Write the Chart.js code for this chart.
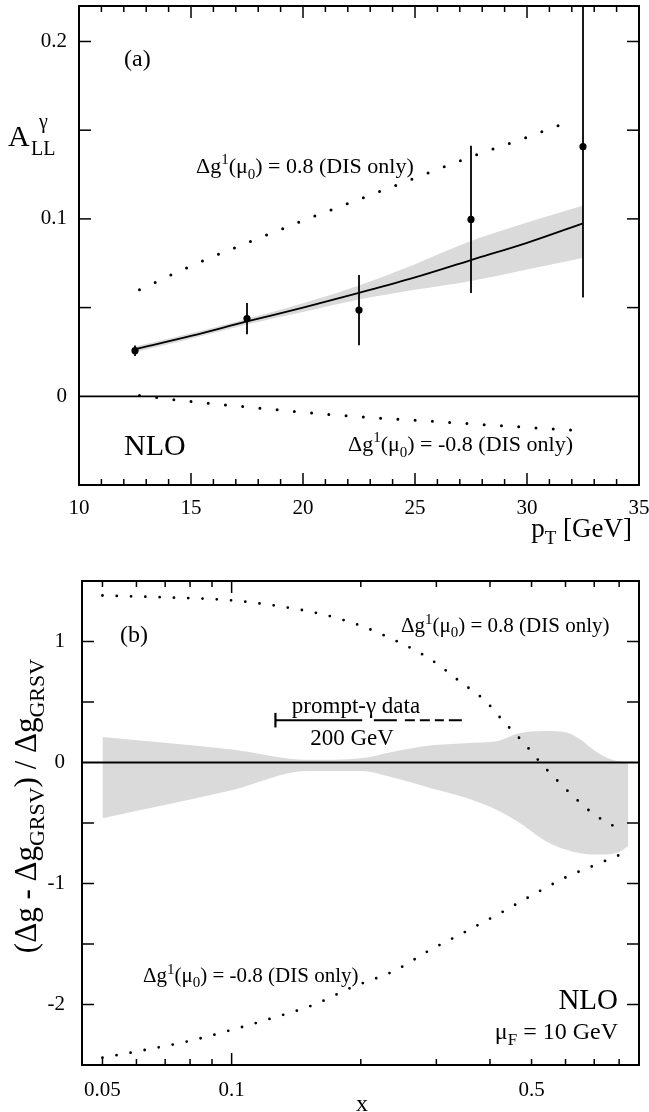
<!DOCTYPE html>
<html>
<head>
<meta charset="utf-8">
<script src="https://cdn.jsdelivr.net/npm/chart.js@4.4.1/dist/chart.umd.min.js"></script>
<style>
  html, body { margin: 0; padding: 0; background: #fff; }
  #wrap { position: relative; width: 649px; height: 1112px; overflow: hidden; }
  canvas { position: absolute; left: 0; top: 0; }
</style>
</head>
<body>
<div id="wrap">
  <canvas id="panelA" width="649" height="1112" style="width:649px;height:1112px"></canvas>
  <canvas id="panelB" width="649" height="1112" style="width:649px;height:1112px"></canvas>
</div>
<script>
// ---------- panel (a): A_LL^gamma vs pT ----------
const ptData = [12.5, 17.5, 22.5, 27.5, 32.5]
const allData = [0.0257, 0.0438, 0.0486, 0.0997, 0.1407]
const allErr = [0.003, 0.0088, 0.0198, 0.0415, 0.085]

const ptCurve = [12.5, 15, 17.5, 20, 22.5, 25, 27.5, 30, 32.5]
const allGrsv = [0.0265, 0.034, 0.0422, 0.050, 0.0583, 0.067, 0.0768, 0.0865, 0.0975]
const allBandHi = [0.028, 0.0355, 0.0437, 0.0525, 0.0625, 0.0745, 0.0875, 0.098, 0.1076]
const allBandLo = [0.0248, 0.0325, 0.0405, 0.0475, 0.0545, 0.060, 0.065, 0.0715, 0.078]

const ptPlus = [12.7, 15, 17.5, 20, 22.5, 25, 27.5, 30, 32.1]
const allPlus = [0.060, 0.0735, 0.0865, 0.099, 0.111, 0.123, 0.135, 0.146, 0.156]
const ptMinus = [12.7, 15, 17.5, 20, 22.5, 25, 27.5, 30, 32]
const allMinus = [0.0005, -0.003, -0.006, -0.009, -0.0115, -0.0135, -0.0155, -0.0175, -0.019]

const ptTicks = [10, 15, 20, 25, 30, 35]
const ptTickLabels = ['10', '15', '20', '25', '30', '35']
const allTicks = [0, 0.1, 0.2]
const allTickLabels = ['0', '0.1', '0.2']

// ---------- panel (b): (dg - dg_GRSV)/dg_GRSV vs x ----------
const xBand = [0.05, 0.1, 0.15, 0.2, 0.235, 0.29, 0.35, 0.42, 0.46, 0.54, 0.6, 0.65, 0.7, 0.75, 0.8, 0.84]
const ratioBandHi = [0.21, 0.107, 0.022, 0.035, 0.085, 0.14, 0.16, 0.18, 0.235, 0.26, 0.25, 0.19, 0.10, 0.04, 0.01, 0.0]
const ratioBandLo = [-0.46, -0.23, -0.07, -0.07, -0.12, -0.21, -0.29, -0.40, -0.48, -0.65, -0.72, -0.75, -0.76, -0.76, -0.74, -0.69]

const xPlus = [0.05, 0.07, 0.1, 0.13, 0.165, 0.2, 0.23, 0.27, 0.3, 0.34, 0.39, 0.43, 0.48, 0.53, 0.56, 0.63, 0.7, 0.8]
const ratioPlus = [1.38, 1.365, 1.34, 1.29, 1.22, 1.13, 1.04, 0.92, 0.82, 0.67, 0.51, 0.34, 0.16, -0.02, -0.11, -0.29, -0.43, -0.55]
const xMinus = [0.05, 0.064, 0.08, 0.1, 0.125, 0.156, 0.19, 0.24, 0.29, 0.35, 0.42, 0.5, 0.6, 0.7, 0.82]
const ratioMinus = [-2.44, -2.37, -2.30, -2.21, -2.11, -2.0, -1.86, -1.72, -1.55, -1.40, -1.25, -1.10, -0.95, -0.85, -0.75]

// prompt-photon x coverage at 200 GeV
const xPromptSolid = [0.1265, 0.2015]
const xPromptDashed = [0.2145, 0.345]
const ratioPrompt = 0.35
const ratioPromptCap = [0.29, 0.41]

const xTicksB = [0.05, 0.1, 0.5]
const xTickLabelsB = ['0.05', '0.1', '0.5']
const ratioTicks = [-2, -1, 0, 1]
const ratioTickLabels = ['-2', '-1', '0', '1']

const pts = (xs, ys) => xs.map((x, i) => ({ x: x, y: ys[i] }))
const serif = '"Liberation Serif", "Times New Roman", serif'

function drawRich(ctx, parts, x, y, size, align) {
  const small = Math.round(size * 0.7)
  const fnt = m => (m ? small : size) + 'px ' + serif
  let w = 0
  for (const [t, m] of parts) { ctx.font = fnt(m); w += ctx.measureText(t).width }
  let cx = align === 'center' ? x - w / 2 : align === 'right' ? x - w : x
  ctx.textBaseline = 'alphabetic'
  ctx.textAlign = 'left'
  ctx.fillStyle = '#000'
  for (const [t, m] of parts) {
    ctx.font = fnt(m)
    const dy = m === 'sup' ? -size * 0.4 : m === 'sub' ? size * 0.25 : 0
    ctx.fillText(t, cx, y + dy)
    cx += ctx.measureText(t).width
  }
}

// frame, inward ticks and zero line
const framePlugin = {
  id: 'frame',
  afterDatasetsDraw(chart, args, o) {
    const { ctx, chartArea: a } = chart
    const sx = chart.scales.x, sy = chart.scales.y
    const seg = (x1, y1, x2, y2) => { ctx.beginPath(); ctx.moveTo(x1, y1); ctx.lineTo(x2, y2); ctx.stroke() }
    ctx.save()
    ctx.strokeStyle = '#000'
    ctx.lineWidth = 1.8
    const y0 = sy.getPixelForValue(0)
    seg(a.left, y0, a.right, y0)
    ctx.lineWidth = 1.5
    const xt = (v, len) => {
      const px = sx.getPixelForValue(v)
      seg(px, a.top, px, a.top + len)
      seg(px, a.bottom, px, a.bottom - len)
    }
    o.xMajor.forEach(v => xt(v, 12))
    o.xMinor.forEach(v => xt(v, 6))
    o.yTicks.forEach(v => {
      const py = sy.getPixelForValue(v)
      seg(a.left, py, a.left + 12, py)
      seg(a.right, py, a.right - 12, py)
    })
    ctx.lineWidth = 2
    ctx.strokeRect(a.left, a.top, a.right - a.left, a.bottom - a.top)
    ctx.restore()
  }
}

const minorPt = []
for (let v = 11; v < 35; v++) if (v % 5) minorPt.push(v)

const tickFont = { family: serif, size: 21 }

const dotted = (data, gap, width) => ({
  data: data, showLine: true, borderColor: '#000', borderWidth: width,
  borderDash: [0, gap], borderCapStyle: 'round', pointRadius: 0,
  cubicInterpolationMode: 'monotone', fill: false, order: 2
})

// ---------- chart (a) ----------
const errorBarsA = ptData.map((x, i) => ({
  data: [{ x: x, y: allData[i] - allErr[i] }, { x: x, y: allData[i] + allErr[i] }],
  showLine: true, borderColor: '#000', borderWidth: 1.8, pointRadius: 0, order: 1
}))

new Chart(document.getElementById('panelA'), {
  type: 'scatter',
  data: {
    datasets: [
      { data: pts(ptData, allData), pointRadius: 3.6, pointBackgroundColor: '#000', pointBorderWidth: 0, order: 0 },
      ...errorBarsA,
      { data: pts(ptCurve, allGrsv), showLine: true, borderColor: '#000', borderWidth: 1.8, pointRadius: 0,
        cubicInterpolationMode: 'monotone', order: 1 },
      dotted(pts(ptPlus, allPlus), 17.3, 3),
      dotted(pts(ptMinus, allMinus), 17.3, 3),
      { data: pts(ptCurve, allBandHi), showLine: true, borderWidth: 0, pointRadius: 0, fill: '+1',
        backgroundColor: '#dadada', cubicInterpolationMode: 'monotone', order: 10 },
      { data: pts(ptCurve, allBandLo), showLine: true, borderWidth: 0, pointRadius: 0,
        cubicInterpolationMode: 'monotone', order: 11 }
    ]
  },
  options: {
    responsive: false,
    animation: false,
    events: [],
    layout: { padding: { top: 6, right: 10, left: 0, bottom: 0 } },
    plugins: {
      legend: { display: false },
      tooltip: { enabled: false },
      frame: { xMajor: ptTicks, xMinor: minorPt, yTicks: [0.05, 0.1, 0.15, 0.2] }
    },
    scales: {
      x: {
        type: 'linear', min: 10, max: 35,
        grid: { display: false, drawTicks: false }, border: { display: false },
        afterBuildTicks: s => { s.ticks = ptTicks.map(v => ({ value: v })) },
        afterFit: s => { s.height = 1112 - 485; s.paddingLeft = 0; s.paddingRight = 0 },
        ticks: { font: tickFont, color: '#000', padding: 11, maxRotation: 0, autoSkip: false,
          callback: v => ptTickLabels[ptTicks.indexOf(v)] }
      },
      y: {
        type: 'linear', min: -0.05, max: 0.22,
        grid: { display: false, drawTicks: false }, border: { display: false },
        afterBuildTicks: s => { s.ticks = allTicks.map(v => ({ value: v })) },
        afterFit: s => { s.width = 79; s.paddingTop = 0; s.paddingBottom = 0 },
        ticks: { font: tickFont, color: '#000', padding: 12, autoSkip: false,
          callback: v => allTickLabels[allTicks.indexOf(v)] }
      }
    }
  },
  plugins: [framePlugin, {
    id: 'textA',
    afterDraw(chart) {
      const ctx = chart.ctx
      ctx.save()
      drawRich(ctx, [['(a)']], 124, 66, 24, 'left')
      drawRich(ctx, [['Δg'], ['1', 'sup'], ['(μ'], ['0', 'sub'], [') = 0.8 (DIS only)']], 196, 173, 22, 'left')
      drawRich(ctx, [['NLO']], 124, 455, 30, 'left')
      drawRich(ctx, [['Δg'], ['1', 'sup'], ['(μ'], ['0', 'sub'], [') = -0.8 (DIS only)']], 348, 451, 22, 'left')
      drawRich(ctx, [['A']], 8, 146, 30, 'left')
      drawRich(ctx, [['LL']], 31, 154.5, 20, 'left')
      drawRich(ctx, [['γ']], 39, 128, 20, 'left')
      drawRich(ctx, [['p'], ['T', 'sub'], [' [GeV]']], 632, 537, 27, 'right')
      ctx.restore()
    }
  }]
})

// ---------- chart (b) ----------
new Chart(document.getElementById('panelB'), {
  type: 'scatter',
  data: {
    datasets: [
      dotted(pts(xPlus, ratioPlus), 14.3, 2.8),
      dotted(pts(xMinus, ratioMinus), 14.3, 2.8),
      { data: pts(xPromptSolid, [ratioPrompt, ratioPrompt]), showLine: true, borderColor: '#000',
        borderWidth: 2, pointRadius: 0, order: 1 },
      { data: pts(xPromptDashed, [ratioPrompt, ratioPrompt]), showLine: true, borderColor: '#000',
        borderWidth: 2, pointRadius: 0, borderDash: [23, 8, 10, 5, 10, 5, 9, 5, 13, 40], order: 1 },
      { data: pts([xPromptSolid[0], xPromptSolid[0]], ratioPromptCap), showLine: true, borderColor: '#000',
        borderWidth: 2.2, pointRadius: 0, order: 1 },
      { data: pts(xBand, ratioBandHi), showLine: true, borderWidth: 0, pointRadius: 0, fill: '+1',
        backgroundColor: '#dadada', cubicInterpolationMode: 'monotone', order: 10 },
      { data: pts(xBand, ratioBandLo), showLine: true, borderWidth: 0, pointRadius: 0,
        cubicInterpolationMode: 'monotone', order: 11 }
    ]
  },
  options: {
    responsive: false,
    animation: false,
    events: [],
    layout: { padding: { top: 581, right: 10, left: 0, bottom: 0 } },
    plugins: {
      legend: { display: false },
      tooltip: { enabled: false },
      frame: {
        xMajor: [0.1],
        xMinor: [0.05, 0.06, 0.07, 0.08, 0.09, 0.2, 0.3, 0.4, 0.5, 0.6, 0.7, 0.8],
        yTicks: [-2, -1.5, -1, -0.5, 0.5, 1]
      }
    },
    scales: {
      x: {
        type: 'logarithmic', min: 0.0448, max: 0.89,
        grid: { display: false, drawTicks: false }, border: { display: false },
        afterBuildTicks: s => { s.ticks = xTicksB.map(v => ({ value: v })) },
        afterFit: s => { s.height = 1112 - 1065; s.paddingLeft = 0; s.paddingRight = 0 },
        ticks: { font: tickFont, color: '#000', padding: 13, maxRotation: 0, autoSkip: false,
          callback: v => xTickLabelsB[xTicksB.indexOf(v)] }
      },
      y: {
        type: 'linear', min: -2.5, max: 1.5,
        grid: { display: false, drawTicks: false }, border: { display: false },
        afterBuildTicks: s => { s.ticks = ratioTicks.map(v => ({ value: v })) },
        afterFit: s => { s.width = 82; s.paddingTop = 0; s.paddingBottom = 0 },
        ticks: { font: tickFont, color: '#000', padding: 17, autoSkip: false,
          callback: v => ratioTickLabels[ratioTicks.indexOf(v)] }
      }
    }
  },
  plugins: [framePlugin, {
    id: 'textB',
    afterDraw(chart) {
      const ctx = chart.ctx
      ctx.save()
      drawRich(ctx, [['(b)']], 120, 642, 24, 'left')
      drawRich(ctx, [['Δg'], ['1', 'sup'], ['(μ'], ['0', 'sub'], [') = 0.8 (DIS only)']], 401, 632, 21, 'left')
      drawRich(ctx, [['Δg'], ['1', 'sup'], ['(μ'], ['0', 'sub'], [') = -0.8 (DIS only)']], 143, 982, 21, 'left')
      drawRich(ctx, [['prompt-γ data']], 356, 713, 23, 'center')
      drawRich(ctx, [['200 GeV']], 352, 745, 23, 'center')
      drawRich(ctx, [['NLO']], 618, 1009, 29, 'right')
      drawRich(ctx, [['μ'], ['F', 'sub'], [' = 10 GeV']], 618, 1039, 24, 'right')
      drawRich(ctx, [['x']], 362, 1111, 24, 'center')
      ctx.translate(36, 806)
      ctx.rotate(-Math.PI / 2)
      drawRich(ctx, [['(Δg - Δg'], ['GRSV', 'sub'], [') / Δg'], ['GRSV', 'sub']], 0, 0, 31, 'center')
      ctx.restore()
    }
  }]
})
</script>
</body>
</html>
